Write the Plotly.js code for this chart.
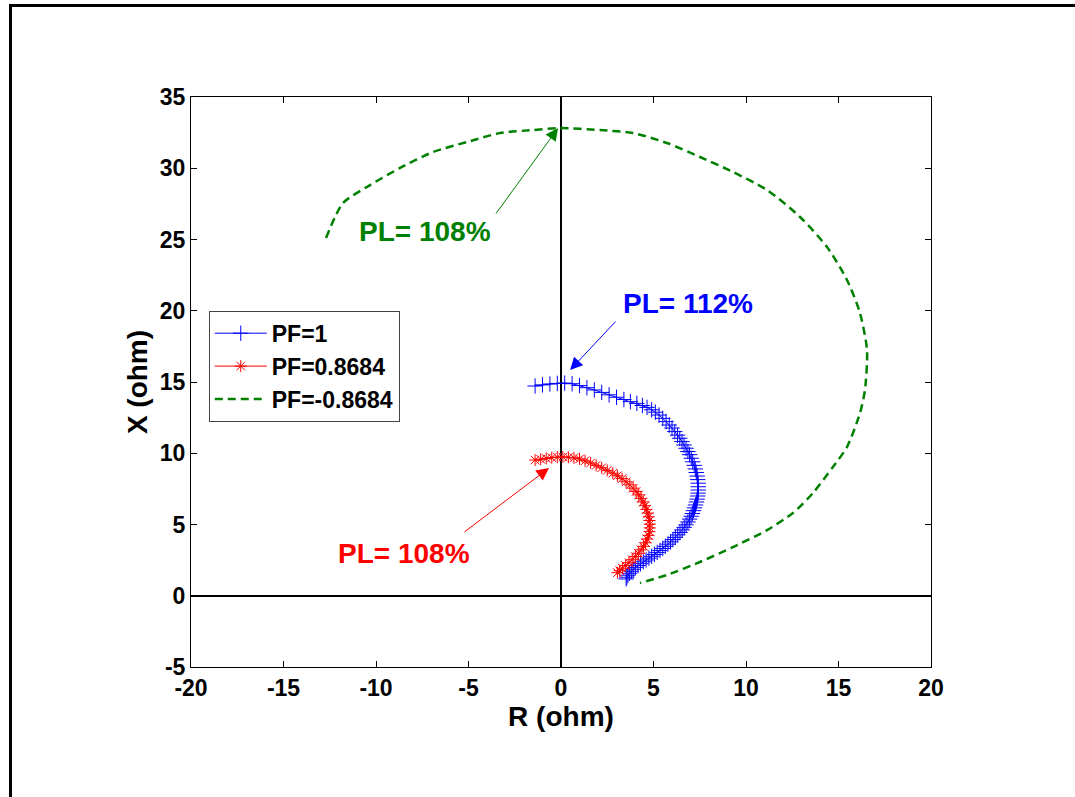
<!DOCTYPE html>
<html>
<head>
<meta charset="utf-8">
<script src="https://cdn.plot.ly/plotly-3.0.1.min.js"></script>
<style>
  html, body { margin: 0; padding: 0; background: #fff; overflow: hidden; }
  #frame { position: absolute; left: 9px; top: 4px; width: 3000px; height: 3000px;
           border-left: 3px solid #000; border-top: 3px solid #000; pointer-events: none; }
  #chart { position: absolute; left: 0; top: 0; width: 1075px; height: 797px; }
</style>
</head>
<body>
<div id="chart"></div>
<div id="frame"></div>
<script>
// ---- data ----
const seriesNames = ['PF=1', 'PF=0.8684', 'PF=-0.8684'];

const pf1_R = [-1.4, -1.0, -0.6, -0.2, 0.2, 0.6, 1.0, 1.4, 1.8, 2.2, 2.6, 3.0, 3.4, 3.75, 4.1, 4.4, 4.65, 4.9, 5.1, 5.3,
  5.5, 5.68, 5.85, 6.0, 6.15, 6.3, 6.42, 6.54, 6.65, 6.76, 6.86, 6.95, 7.04, 7.12, 7.2, 7.26, 7.31, 7.36, 7.39, 7.41,
  7.42, 7.42, 7.41, 7.39, 7.36, 7.32, 7.27, 7.22, 7.16, 7.10, 7.03, 6.95, 6.86, 6.76, 6.66, 6.55, 6.43, 6.31, 6.18, 6.05,
  5.92, 5.78, 5.64, 5.50, 5.35, 5.20, 5.05, 4.90, 4.75, 4.60, 4.45, 4.30, 4.16, 4.02, 3.90, 3.80, 3.70, 3.62, 3.56, 3.52];
const pf1_X = [14.72, 14.80, 14.86, 14.90, 14.92, 14.88, 14.75, 14.60, 14.44, 14.27, 14.10, 13.93, 13.77, 13.62, 13.50, 13.35, 13.22, 13.05, 12.88, 12.68,
  12.45, 12.22, 11.98, 11.77, 11.52, 11.27, 11.05, 10.82, 10.58, 10.35, 10.12, 9.90, 9.65, 9.40, 9.15, 8.90, 8.65, 8.40, 8.15, 7.90,
  7.65, 7.42, 7.20, 7.00, 6.78, 6.58, 6.37, 6.17, 5.97, 5.77, 5.58, 5.38, 5.18, 4.98, 4.80, 4.62, 4.44, 4.27, 4.10, 3.94,
  3.78, 3.62, 3.47, 3.32, 3.18, 3.04, 2.90, 2.77, 2.64, 2.51, 2.38, 2.25, 2.12, 1.99, 1.86, 1.72, 1.58, 1.44, 1.30, 1.18];

const pf2_R = [-1.4, -1.1, -0.8, -0.5, -0.2, 0.1, 0.4, 0.7, 1.0, 1.3, 1.6, 1.9, 2.2, 2.5, 2.8, 3.05, 3.3, 3.52, 3.72, 3.9,
  4.06, 4.2, 4.33, 4.44, 4.54, 4.62, 4.69, 4.74, 4.78, 4.80, 4.80, 4.78, 4.73, 4.66, 4.57, 4.46, 4.33, 4.18, 4.02, 3.85,
  3.67, 3.49, 3.32, 3.17, 3.05];
const pf2_X = [9.52, 9.58, 9.64, 9.69, 9.73, 9.74, 9.72, 9.68, 9.60, 9.47, 9.32, 9.15, 8.98, 8.80, 8.60, 8.42, 8.22, 8.00, 7.78, 7.55,
  7.32, 7.08, 6.83, 6.58, 6.32, 6.06, 5.80, 5.54, 5.28, 5.02, 4.76, 4.50, 4.24, 3.98, 3.72, 3.47, 3.22, 2.98, 2.75, 2.53,
  2.32, 2.12, 1.93, 1.76, 1.62];

const pf3_R = [-12.70, -11.78, -10.32, -8.70, -6.92, -5.08, -3.30, -1.51, -0.05, 2.11, 3.89, 5.73, 7.51, 9.30, 11.14, 12.92,
  14.38, 15.46, 16.16, 16.54, 16.43, 16.16, 15.46, 14.70, 13.62, 12.54, 11.14, 9.30, 7.51, 5.73, 4.27];
const pf3_X = [25.11, 27.56, 28.82, 30.02, 31.14, 31.84, 32.47, 32.68, 32.82, 32.68, 32.47, 31.77, 30.79, 29.74, 28.47, 26.58,
  24.47, 22.16, 19.84, 17.25, 14.44, 12.82, 10.44, 9.04, 7.21, 5.81, 4.61, 3.42, 2.37, 1.46, 0.89];

const xTickVals = [-20, -15, -10, -5, 0, 5, 10, 15, 20];
const xTickLabels = ['-20', '-15', '-10', '-5', '0', '5', '10', '15', '20'];
const yTickVals = [-5, 0, 5, 10, 15, 20, 25, 30, 35];
const yTickLabels = ['-5', '0', '5', '10', '15', '20', '25', '30', '35'];

// annotation texts, label positions and arrow ends (data coordinates)
const noteTexts = ['PL= 108%', 'PL= 112%', 'PL= 108%'];
const noteX = [-7.35, 6.86, -8.49];
const noteY = [25.53, 20.54, 3.0];
const arrowTailX = [-3.57, 3.03, -5.3];
const arrowTailY = [26.72, 19.35, 4.4];
const arrowHeadX = [-0.16, 0.49, -0.65];
const arrowHeadY = [32.82, 15.84, 8.96];
const noteColors = ['rgb(0,128,0)', 'rgb(0,0,255)', 'rgb(255,0,0)'];

// ---- chart ----
const FONT = 'Liberation Sans, Arial, sans-serif';

const traces = [
  { x: pf1_R, y: pf1_X, name: seriesNames[0], type: 'scatter', mode: 'lines+markers',
    line: { color: 'rgb(0,0,255)', width: 1 },
    marker: { symbol: 'cross-thin', size: 11, color: 'rgb(0,0,255)', line: { color: 'rgb(0,0,255)', width: 1 } } },
  { x: pf2_R, y: pf2_X, name: seriesNames[1], type: 'scatter', mode: 'lines+markers',
    line: { color: 'rgb(255,0,0)', width: 1 },
    marker: { symbol: 'asterisk', size: 10, color: 'rgb(255,0,0)', line: { color: 'rgb(255,0,0)', width: 1 } } },
  { x: pf3_R, y: pf3_X, name: seriesNames[2], type: 'scatter', mode: 'lines',
    line: { color: 'rgb(0,128,0)', width: 2.5, dash: '8px,5px', shape: 'spline', smoothing: 0.7 } }
];

const annotations = [];
for (let i = 0; i < noteTexts.length; i++) {
  annotations.push({
    x: arrowHeadX[i], y: arrowHeadY[i], xref: 'x', yref: 'y',
    ax: arrowTailX[i], ay: arrowTailY[i], axref: 'x', ayref: 'y',
    text: '', showarrow: true, arrowhead: 2, arrowsize: 2.5, arrowwidth: 1,
    arrowcolor: noteColors[i]
  });
  annotations.push({
    x: noteX[i], y: noteY[i], xref: 'x', yref: 'y', showarrow: false,
    text: noteTexts[i], xanchor: 'center', yanchor: 'middle',
    font: { family: FONT, size: 28, weight: 'bold', color: noteColors[i] }
  });
}

const axisCommon = {
  ticks: 'inside', ticklen: 6, tickwidth: 1, tickcolor: '#000',
  showline: true, linecolor: '#000', linewidth: 1, mirror: 'ticks',
  showgrid: false, zeroline: true, zerolinecolor: '#000', zerolinewidth: 2,
  tickfont: { family: FONT, size: 23, weight: 'bold', color: '#000' }
};

const layout = {
  width: 1075, height: 797, autosize: false,
  margin: { l: 191, r: 144, t: 97, b: 130, pad: 0 },
  paper_bgcolor: '#fff', plot_bgcolor: '#fff',
  showlegend: true,
  xaxis: Object.assign({}, axisCommon, {
    range: [-20, 20], tickmode: 'array', tickvals: xTickVals, ticktext: xTickLabels,
    title: { text: 'R (ohm)', font: { family: FONT, size: 28, weight: 'bold', color: '#000' }, standoff: 6 }
  }),
  yaxis: Object.assign({}, axisCommon, {
    range: [-5, 35], tickmode: 'array', tickvals: yTickVals, ticktext: yTickLabels,
    title: { text: 'X (ohm)', font: { family: FONT, size: 28, weight: 'bold', color: '#000' }, standoff: 4 }
  }),
  legend: {
    x: 0.024, y: 0.625, xanchor: 'left', yanchor: 'top',
    bgcolor: '#fff', bordercolor: '#444', borderwidth: 1,
    font: { family: FONT, size: 23, weight: 'bold', color: '#000' },
    tracegroupgap: 0, itemwidth: 52
  },
  annotations: annotations
};

Plotly.newPlot('chart', traces, layout, { displayModeBar: false, staticPlot: true });
</script>
</body>
</html>
